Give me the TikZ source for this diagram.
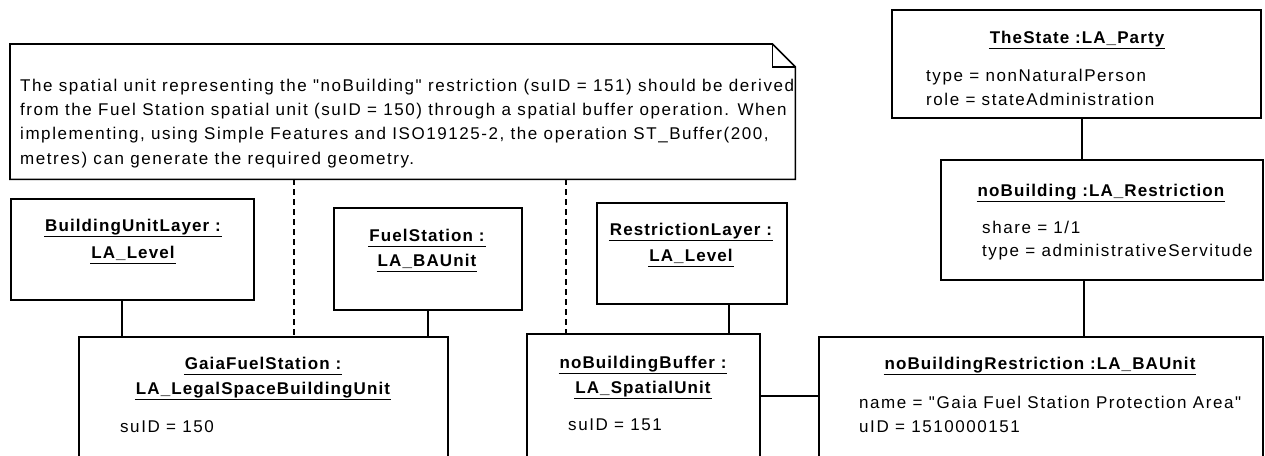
\documentclass[tikz,border=0pt]{standalone}
\usepackage{fontspec}
\setmainfont{Liberation Sans}[LetterSpace=6.5]
\newfontfamily\bodyfont{Liberation Sans}[LetterSpace=9.2]
\newcommand\dq{\char"22\relax}
\newsavebox\ulsave
\newcommand\ulbox[1]{\sbox\ulsave{#1}\rlap{\hspace{-1pt}\rule[-6.2pt]{\dimexpr\wd\ulsave+2pt\relax}{1.4pt}}\usebox\ulsave}
\begin{document}
\begin{tikzpicture}[x=1pt,y=-1pt,
  box/.style={draw, line width=1.6pt, fill=white, inner sep=0, anchor=north west},
  conn/.style={line width=1.3pt},
  dep/.style={line width=1.3pt, dash pattern=on 6pt off 4pt},
  ttl/.style={font=\fontsize{17}{20}\selectfont\bfseries, anchor=base, inner sep=0},
  att/.style={font=\fontsize{17}{20}\selectfont\bodyfont, anchor=base west, inner sep=0},
]
\useasboundingbox (0,0) rectangle (1265,455);
\clip (0,0) rectangle (1265,455);
\fill[white] (0,0) rectangle (1265,455);

% note
\node[inner sep=0, minimum width=785pt, minimum height=135pt, anchor=north west] (note) at (10,44) {};
\draw[line width=1.6pt, line join=miter, fill=white]
  (note.north west) -- ([xshift=-23pt]note.north east) -- ([yshift=-23pt]note.north east)
  -- (note.south east) -- (note.south west) -- cycle;
\draw[line width=1.3pt] ([xshift=-23pt]note.north east) -- ([xshift=-23pt,yshift=-23pt]note.north east) -- ([yshift=-23pt]note.north east);
\node[att] (n1) at (20,91) {The spatial unit representing the \dq noBuilding\dq{} restriction (suID = 151) should be derived};
\node[att] (n2) at (20,115.3) {from the Fuel Station spatial unit (suID = 150) through a spatial buffer operation. When};
\node[att] (n3) at (20,139.6) {implementing, using Simple Features and ISO19125-2, the operation ST\_Buffer(200,};
\node[att] (n4) at (20,164) {metres) can generate the required geometry.};

% boxes
\node[box, minimum width=243pt, minimum height=101pt] (bul) at (10,198) {};
\node[box, minimum width=188pt, minimum height=102pt] (fuel) at (333,207) {};
\node[box, minimum width=190pt, minimum height=101pt] (rl) at (596,202) {};
\node[box, minimum width=369pt, minimum height=140pt] (gaia) at (78,336) {};
\node[box, minimum width=233pt, minimum height=143pt] (nbb) at (526,333) {};
\node[box, minimum width=444pt, minimum height=140pt] (nbr) at (818,336) {};
\node[box, minimum width=369pt, minimum height=108pt] (state) at (891,9) {};
\node[box, minimum width=322pt, minimum height=120pt] (nob) at (940,159) {};

% connectors
\coordinate (d1) at (294,0);
\coordinate (d2) at (566,0);
\coordinate (c1) at (122,0);
\coordinate (c2) at (428,0);
\coordinate (c3) at (729,0);
\coordinate (c4) at (0,396);
\coordinate (c5) at (1082,0);
\coordinate (c6) at (1084,0);
\draw[dep] (note.south -| d1) -- (gaia.north -| d1);
\draw[dep] (note.south -| d2) -- (nbb.north -| d2);
\draw[conn] (bul.south -| c1) -- (gaia.north -| c1);
\draw[conn] (fuel.south -| c2) -- (gaia.north -| c2);
\draw[conn] (rl.south -| c3) -- (nbb.north -| c3);
\draw[conn] (nbb.east |- c4) -- (nbr.west |- c4);
\draw[conn] (state.south -| c5) -- (nob.north -| c5);
\draw[conn] (nob.south -| c6) -- (nbr.north -| c6);

% titles
\node[ttl] (bul-t1) at (133,231) {\ulbox{BuildingUnitLayer :}};
\node[ttl] (bul-t2) at (133,258) {\ulbox{LA\_Level}};
\node[ttl] (fuel-t1) at (427,241) {\ulbox{FuelStation :}};
\node[ttl] (fuel-t2) at (427,266) {\ulbox{LA\_BAUnit}};
\node[ttl] (rl-t1) at (691,235) {\ulbox{RestrictionLayer :}};
\node[ttl] (rl-t2) at (691,261) {\ulbox{LA\_Level}};
\node[ttl] (gaia-t1) at (263,369) {\ulbox{GaiaFuelStation :}};
\node[ttl] (gaia-t2) at (263,394) {\ulbox{LA\_LegalSpaceBuildingUnit}};
\node[ttl] (nbb-t1) at (643,368) {\ulbox{noBuildingBuffer :}};
\node[ttl] (nbb-t2) at (643,393) {\ulbox{LA\_SpatialUnit}};
\node[ttl] (nbr-t) at (1040,369) {\ulbox{noBuildingRestriction :LA\_BAUnit}};
\node[ttl] (nob-t) at (1101,196) {\ulbox{noBuilding :LA\_Restriction}};
\node[ttl] (state-t) at (1077,43) {\ulbox{TheState :LA\_Party}};

% attributes
\node[att] (gaia-a) at (120,432) {suID = 150};
\node[att] (nbb-a) at (568,430) {suID = 151};
\node[att] (nbr-a1) at (859,408) {name = \dq Gaia Fuel Station Protection Area\dq};
\node[att] (nbr-a2) at (859,432) {uID = 1510000151};
\node[att] (nob-a1) at (982,233) {share = 1/1};
\node[att] (nob-a2) at (982,256) {type = administrativeServitude};
\node[att] (state-a1) at (926,81) {type = nonNaturalPerson};
\node[att] (state-a2) at (926,105) {role = stateAdministration};
\end{tikzpicture}
\end{document}
